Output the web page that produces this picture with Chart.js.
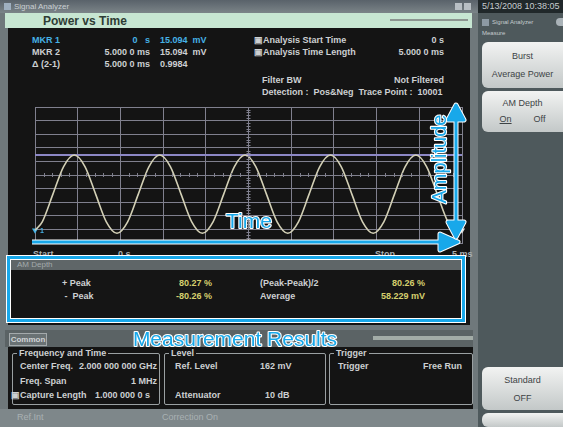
<!DOCTYPE html>
<html>
<head>
<meta charset="utf-8">
<script src="https://cdn.jsdelivr.net/npm/chart.js@4/dist/chart.umd.min.js"></script>
<style>
body{margin:0;width:563px;height:427px;overflow:hidden;background:#7c8487;font-family:"Liberation Sans",Arial,sans-serif;position:relative}
.a{position:absolute;white-space:nowrap}
.t{font-size:9px;font-weight:bold;color:#cdd0d2}
.r{text-align:right}
.y{color:#d6cf6e}
.grp{position:absolute;border:1px solid #9aa0a2;border-radius:2px}
.grp span{position:absolute;top:-6px;left:4px;background:#141414;padding:0 2px;font-size:9px;font-weight:bold;color:#cdd0d2}
.btn{position:absolute;left:482px;width:81px;border-radius:6px 0 0 6px;background:linear-gradient(#f2f3f2,#c3c8c8);color:#3d4345;font-size:9px;text-align:center}
.cy{font-family:"Liberation Sans",Arial,sans-serif;fill:#18a8ea;stroke:#fff;stroke-width:2.2px;paint-order:stroke;stroke-linejoin:round}
</style>
</head>
<body>
<!-- left window frame -->
<div class="a" style="left:0;top:0;width:478px;height:409px;background:#6f787b"></div>
<div class="a" style="left:0;top:0;width:478px;height:13px;background:linear-gradient(#59626a,#7b8488)"></div>
<div class="a" style="left:4px;top:3px;width:7px;height:7px;background:#9fb0c0"></div>
<div class="a" style="left:14px;top:2px;font-size:8px;color:#c9cfd3">Signal Analyzer</div>
<div class="a" style="left:455px;top:3px;width:7px;height:7px;background:#b8bfc4"></div>
<div class="a" style="left:464px;top:3px;width:7px;height:7px;background:#b8bfc4"></div>
<div class="a" style="left:5px;top:13px;width:467px;height:15px;background:#c7e6d2"></div>
<div class="a" style="left:43px;top:14px;font-size:12px;font-weight:bold;color:#2e3c34">Power vs Time</div>
<div class="a" style="left:390px;top:19px;width:78px;height:2px;background:#8c9590"></div>
<div class="a" style="left:8px;top:28px;width:462px;height:297px;background:#141414"></div>

<!-- marker table -->
<div class="a t" style="left:32px;top:35px;color:#46b2e6">MKR 1</div>
<div class="a t r" style="left:100px;width:50px;top:35px;color:#46b2e6">0&nbsp;&nbsp;&nbsp;s</div>
<div class="a t" style="left:160px;top:35px;color:#46b2e6">15.094 &nbsp;mV</div>
<div class="a t" style="left:32px;top:47px">MKR 2</div>
<div class="a t r" style="left:90px;width:60px;top:47px">5.000 0 ms</div>
<div class="a t" style="left:160px;top:47px">15.094 &nbsp;mV</div>
<div class="a t" style="left:32px;top:59px">Δ (2-1)</div>
<div class="a t r" style="left:90px;width:60px;top:59px">5.000 0 ms</div>
<div class="a t" style="left:160px;top:59px">0.9984</div>
<div class="a t" style="left:254px;top:35px">&#9635;Analysis Start Time</div>
<div class="a t r" style="left:380px;width:64px;top:35px">0 s</div>
<div class="a t" style="left:254px;top:47px">&#9635;Analysis Time Length</div>
<div class="a t r" style="left:380px;width:64px;top:47px">5.000 0 ms</div>
<div class="a t" style="left:262px;top:75px">Filter BW</div>
<div class="a t r" style="left:380px;width:64px;top:75px">Not Filtered</div>
<div class="a t" style="left:262px;top:87px">Detection : &nbsp;Pos&amp;Neg &nbsp;Trace Point : &nbsp;10001</div>

<!-- chart -->
<div class="a" style="left:31px;top:103px;width:435px;height:144px"><canvas id="c" width="435" height="144"></canvas></div>
<div class="a t" style="left:33px;top:249px;color:#aab0b2">Start</div>
<div class="a t" style="left:118px;top:249px;color:#aab0b2">0 s</div>
<div class="a t" style="left:375px;top:249px;color:#aab0b2">Stop</div>
<div class="a t" style="left:452px;top:249px;color:#aab0b2">5 ms</div>

<!-- AM depth -->
<div class="a" style="left:10px;top:259px;width:452px;height:60px;background:#151515;border:1px solid #555"></div>
<div class="a" style="left:11px;top:260px;width:452px;height:10px;background:#5f6668"></div>
<div class="a" style="left:17px;top:260px;font-size:8px;color:#a3aaac">AM Depth</div>
<div class="a t" style="left:62px;top:278px">+ Peak</div>
<div class="a t y r" style="left:150px;width:62px;top:278px">80.27 %</div>
<div class="a t" style="left:260px;top:278px">(Peak-Peak)/2</div>
<div class="a t y r" style="left:360px;width:65px;top:278px">80.26 %</div>
<div class="a t" style="left:62px;top:291px">&nbsp;- &nbsp;Peak</div>
<div class="a t y r" style="left:150px;width:62px;top:291px">-80.26 %</div>
<div class="a t" style="left:260px;top:291px">Average</div>
<div class="a t y r" style="left:360px;width:65px;top:291px">58.229 mV</div>

<!-- common -->
<div class="a" style="left:5px;top:330px;width:468px;height:17px;background:#5b6365"></div>
<div class="a" style="left:9px;top:333px;width:36px;height:11px;border:1px solid #a4aaac;background:#6a7274;font-size:8px;font-weight:bold;color:#d0d4d6;text-align:center;line-height:11px">Common</div>
<div class="a" style="left:373px;top:336px;width:100px;height:4px;background:#a3aca7"></div>
<div class="a" style="left:8px;top:347px;width:465px;height:62px;background:#141414"></div>
<div class="grp" style="left:12px;top:353px;width:146px;height:50px"><span>Frequency and Time</span></div>
<div class="grp" style="left:164px;top:353px;width:160px;height:50px"><span>Level</span></div>
<div class="grp" style="left:329px;top:353px;width:142px;height:50px"><span>Trigger</span></div>
<div class="a t" style="left:20px;top:361px">Center Freq.</div>
<div class="a t r" style="left:60px;width:97px;top:361px">2.000 000 000 GHz</div>
<div class="a t" style="left:20px;top:376px">Freq. Span</div>
<div class="a t r" style="left:60px;width:97px;top:376px">1 MHz</div>
<div class="a t" style="left:11px;top:390px">&#9635;Capture Length</div>
<div class="a t r" style="left:60px;width:90px;top:390px">1.000 000 0 s</div>
<div class="a t" style="left:175px;top:361px">Ref. Level</div>
<div class="a t" style="left:260px;top:361px">162 mV</div>
<div class="a t" style="left:175px;top:390px">Attenuator</div>
<div class="a t" style="left:265px;top:390px">10 dB</div>
<div class="a t" style="left:338px;top:361px">Trigger</div>
<div class="a t r" style="left:380px;width:82px;top:361px">Free Run</div>
<div class="a" style="left:0;top:409px;width:478px;height:18px;background:#7e878a"></div>
<div class="a" style="left:17px;top:412px;font-size:9px;color:#a9b1b3">Ref.Int</div>
<div class="a" style="left:162px;top:412px;font-size:9px;color:#a9b1b3">Correction On</div>

<!-- right panel -->
<div class="a" style="left:478px;top:0;width:85px;height:427px;background:#4e595c"></div>
<div class="a" style="left:478px;top:0;width:85px;height:13px;background:#20282a"></div>
<div class="a" style="left:482px;top:1px;font-size:9px;color:#c6ccce">5/13/2008 10:38:05</div>
<div class="a" style="left:482px;top:19px;width:7px;height:7px;background:#8d9aa4"></div>
<div class="a" style="left:492px;top:19px;font-size:6px;color:#c6ccce">Signal Analyzer</div>
<div class="a" style="left:556px;top:18px;width:7px;height:8px;border-radius:4px 0 0 4px;background:#aab3b8"></div>
<div class="a" style="left:482px;top:30px;font-size:6px;color:#c6ccce">Measure</div>
<div class="btn" style="top:42px;height:46px"><div style="margin-top:9px">Burst</div><div style="margin-top:8px">Average Power</div></div>
<div class="btn" style="top:91px;height:41px"><div style="margin-top:7px">AM Depth</div><div style="margin-top:6px"><span style="text-decoration:underline;margin-right:22px">On</span>Off</div></div>
<div class="btn" style="top:367px;height:43px"><div style="margin-top:8px">Standard</div><div style="margin-top:8px">OFF</div></div>
<div class="btn" style="top:413px;height:14px"></div>

<!-- annotations -->
<svg class="a" style="left:0;top:0" width="563" height="427">
  <rect x="8.5" y="257.5" width="455" height="63" fill="none" stroke="#fff" stroke-width="5"/>
  <rect x="8.5" y="257.5" width="455" height="63" fill="none" stroke="#18a8ea" stroke-width="3"/>
  <path d="M32 242 H440 M440 234 L458 242 L440 250 Z" fill="#18a8ea" stroke="#fff" stroke-width="5" stroke-linejoin="round"/>
  <path d="M32 242 H440 M440 234 L458 242 L440 250 Z" fill="#18a8ea" stroke="#18a8ea" stroke-width="3" stroke-linejoin="round"/>
  <path d="M456 120 V222 M448 120 L456 105 L464 120 Z M448 222 L456 237 L464 222 Z" fill="#18a8ea" stroke="#fff" stroke-width="5" stroke-linejoin="round"/>
  <path d="M456 120 V222 M448 120 L456 105 L464 120 Z M448 222 L456 237 L464 222 Z" fill="#18a8ea" stroke="#18a8ea" stroke-width="3" stroke-linejoin="round"/>
  <text class="cy" x="249" y="228" font-size="21" text-anchor="middle">Time</text>
  <text class="cy" transform="translate(446 159) rotate(-90)" font-size="20" text-anchor="middle">Amplitude</text>
  <text class="cy" x="235" y="346" font-size="21" text-anchor="middle">Measurement Results</text>
</svg>

<script>
// trace samples (ms, mV)
const timeMs = [0, 0.085, 0.21, 0.335, 0.46, 0.585, 0.71, 0.835, 0.96,
  1.085, 1.21, 1.335, 1.46, 1.585, 1.71, 1.835, 1.96,
  2.085, 2.21, 2.335, 2.46, 2.585, 2.71, 2.835, 2.96,
  3.085, 3.21, 3.335, 3.46, 3.585, 3.71, 3.835, 3.96,
  4.085, 4.21, 4.335, 4.46, 4.585, 4.71, 4.835, 4.96, 5.0];
const amplitudeMv = [15.1, 25.3, 58.2, 91.1, 104.8, 91.1, 58.2, 25.3, 11.6,
  25.3, 58.2, 91.1, 104.8, 91.1, 58.2, 25.3, 11.6,
  25.3, 58.2, 91.1, 104.8, 91.1, 58.2, 25.3, 11.6,
  25.3, 58.2, 91.1, 104.8, 91.1, 58.2, 25.3, 11.6,
  25.3, 58.2, 91.1, 104.8, 91.1, 58.2, 25.3, 11.6, 15.1];
const markerTimes = [0, 5.0];
const markerValues = [15.094, 15.094];
const peakLevelMv = 104.8;
const refLevelMv = 162;
const spanMs = 5;

const gridCol = '#80808e';

// small ticks on the centre cross, like the instrument graticule
const centreTicks = {
  id: 'centreTicks',
  afterDatasetsDraw(chart){
    const {ctx, scales:{x, y}} = chart;
    const cx = x.getPixelForValue(spanMs/2), cy = y.getPixelForValue(refLevelMv/2);
    ctx.save();
    ctx.strokeStyle = gridCol; ctx.lineWidth = 1;
    ctx.beginPath();
    for (let i=1;i<50;i++){
      const py = Math.round(y.getPixelForValue(refLevelMv*i/50))+0.5;
      if (i%5) { ctx.moveTo(cx-2, py); ctx.lineTo(cx+2, py); }
      const px = Math.round(x.getPixelForValue(spanMs*i/50))+0.5;
      if (i%5) { ctx.moveTo(px, cy-2); ctx.lineTo(px, cy+2); }
    }
    ctx.stroke();
    ctx.font = 'bold 7px "Liberation Sans", Arial';
    ctx.fillStyle = '#46b2e6';
    ctx.fillText('1', x.getPixelForValue(markerTimes[0])+5, y.getPixelForValue(markerValues[0])+3);
    ctx.fillStyle = '#d8d8d8';
    ctx.fillText('2', x.getPixelForValue(markerTimes[1])+4, y.getPixelForValue(markerValues[1])+3);
    ctx.restore();
  }
};

new Chart(document.getElementById('c'), {
  type: 'line',
  data: {
    datasets: [
      {
        data: timeMs.map((t,i)=>({x:t, y:amplitudeMv[i]})),
        borderColor: '#d3d0b6', borderWidth: 1.6, pointRadius: 0,
        cubicInterpolationMode: 'monotone'
      },
      {
        data: [{x:0, y:peakLevelMv}, {x:spanMs, y:peakLevelMv}],
        borderColor: '#8d88c6', borderWidth: 2, pointRadius: 0
      },
      {
        data: markerTimes.map((t,i)=>({x:t, y:markerValues[i]})),
        showLine: false, pointStyle: 'triangle', rotation: 180, pointRadius: 3.5,
        pointBackgroundColor: ['#46b2e6', '#e0e0e0'], pointBorderWidth: 0
      }
    ]
  },
  options: {
    responsive: false, animation: false, clip: false,
    layout: { padding: 1 },
    plugins: { legend: { display: false }, tooltip: { enabled: false } },
    scales: {
      x: { type: 'linear', min: 0, max: spanMs,
        ticks: { display: false, stepSize: spanMs/10 },
        grid: { color: gridCol, drawTicks: false }, border: { color: gridCol } },
      y: { min: 0, max: refLevelMv,
        ticks: { display: false, count: 11 },
        grid: { color: gridCol, drawTicks: false }, border: { color: gridCol } }
    }
  },
  plugins: [centreTicks]
});
</script>
</body>
</html>
